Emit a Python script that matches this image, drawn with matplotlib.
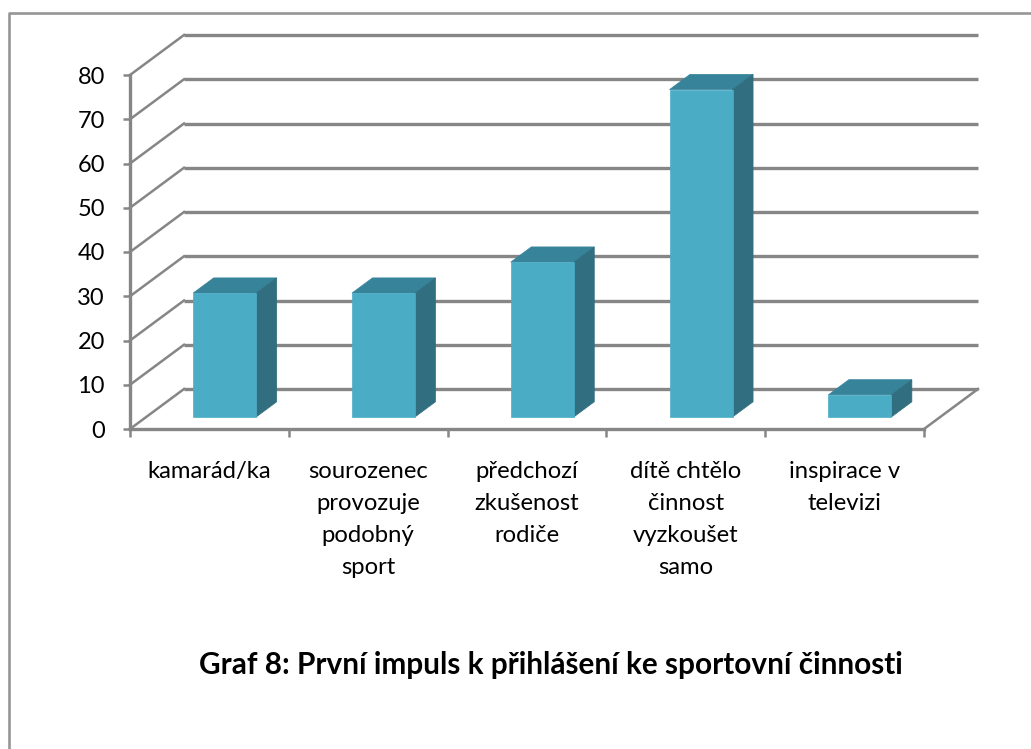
import matplotlib
matplotlib.use('Agg')
import matplotlib.pyplot as plt
from matplotlib.lines import Line2D
from matplotlib.patches import Polygon

categories = ['kamarád/ka', 'sourozenec\nprovozuje\npodobný\nsport', 'předchozí\nzkušenost\nrodiče',
              'dítě chtělo\nčinnost\nvyzkoušet\nsamo', 'inspirace v\ntelevizi']
values = [28, 28, 35, 74, 5]
yticks = [0, 10, 20, 30, 40, 50, 60, 70, 80]
title = 'Graf 8: První impuls k přihlášení ke sportovní činnosti'

GRAY = '#868686'
FRONT = '#4BACC6'
TOP = '#37849A'
SIDE = '#316E80'
W, H = 1031, 749

plt.rcParams['font.family'] = ['Lato', 'DejaVu Sans']

fig = plt.figure(figsize=(W / 100, H / 100), dpi=100)
ax = fig.add_axes([130 / W, 1 - 429 / H, 794 / W, 354 / H])
ax.set_xlim(0, len(categories))
ax.set_ylim(0, 80)
ax.patch.set_visible(False)

# 3d look: shift per unit of depth, in data units
DX = 54 / 158.8
DY = 40 / 4.425


def proj(x, y, d):
    return x + d * DX, y + d * DY


# back wall gridlines + the slanted bit on the left wall
for v in yticks:
    ax.plot(*zip(proj(0, v, 0), proj(0, v, 1)), color=GRAY, lw=1.8, clip_on=False, zorder=1)
    ax.plot(*zip(proj(0, v, 1), proj(5, v, 1)), color=GRAY, lw=2.4, clip_on=False, zorder=1,
            solid_capstyle='butt')
# floor right edge
ax.plot(*zip(proj(5, 0, 0), proj(5, 0, 1)), color=GRAY, lw=1.8, clip_on=False, zorder=1)

# bars
bar_w = 63 / 158.8
d0, d1 = 0.30, 0.68
for i, v in enumerate(values):
    x0 = i + 0.5 - bar_w / 2 - 0.006
    x1 = x0 + bar_w
    front = [proj(x0, 0, d0), proj(x1, 0, d0), proj(x1, v, d0), proj(x0, v, d0)]
    top = [proj(x0, v, d0), proj(x1, v, d0), proj(x1, v, d1), proj(x0, v, d1)]
    side = [proj(x1, 0, d0), proj(x1, 0, d1), proj(x1, v, d1), proj(x1, v, d0)]
    ax.add_patch(Polygon(top, closed=True, fc=TOP, ec=TOP, lw=0.5, clip_on=False, zorder=3))
    ax.add_patch(Polygon(side, closed=True, fc=SIDE, ec=SIDE, lw=0.5, clip_on=False, zorder=3))
    ax.add_patch(Polygon(front, closed=True, fc=FRONT, ec=FRONT, lw=0.5, clip_on=False, zorder=4))

for s in ['top', 'right']:
    ax.spines[s].set_visible(False)
for s in ['left', 'bottom']:
    ax.spines[s].set_color(GRAY)
    ax.spines[s].set_linewidth(2.4)

ax.set_yticks(yticks)
ax.set_yticklabels([str(v) for v in yticks], fontsize=17, color='black')
ax.tick_params(axis='y', length=5, width=1.8, color=GRAY, pad=13)
ax.set_xticks(range(len(categories) + 1))
ax.set_xticklabels([])
ax.tick_params(axis='x', which='major', length=6, width=1.8, color=GRAY)
ax.set_xticks([i + 0.5 for i in range(len(categories))], minor=True)
ax.set_xticklabels(categories, minor=True, fontsize=17.2, linespacing=1.65, va='top')
ax.tick_params(axis='x', which='minor', length=0, pad=23)

fig.text(551 / W, 1 - 665 / H, title, fontsize=21.4, fontweight='bold', ha='center', va='center')

# border of the page around the chart
fig.add_artist(Line2D([8.5 / W, 8.5 / W, 1], [0, 1 - 12.5 / H, 1 - 12.5 / H], color='#969696', lw=1.9))

fig.savefig('out.png', dpi=100)
plt.close(fig)
